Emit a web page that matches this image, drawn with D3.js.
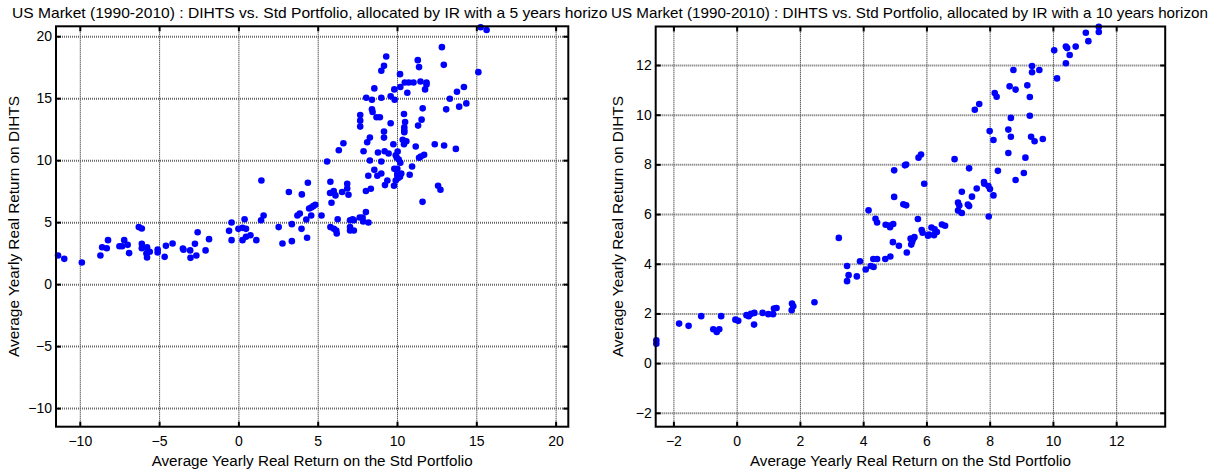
<!DOCTYPE html>
<html>
<head>
<meta charset="utf-8">
<script src="https://cdn.jsdelivr.net/npm/d3@7"></script>
<style>
  body { margin: 0; background: #fff; }
  svg { display: block; }
  text { font-family: "Liberation Sans", Arial, Helvetica, sans-serif; fill: #000; }
</style>
</head>
<body>
<svg id="chart" width="1212" height="471"></svg>
<script>
// 5-year horizon: average yearly real return on the Std portfolio (x) and on DIHTS (y)
const std5 = [
  -11.37,-10.98,-9.87,-8.70,-8.59,-8.30,-8.22,-7.50,-7.33,-7.20,-6.98,-6.89,-6.28,-6.09,-6.09,-6.09,
  -5.76,-5.72,-5.59,-5.76,-5.80,-5.09,-5.09,-4.65,-4.57,-4.15,-3.50,-3.46,-3.04,-3.02,-2.74,-2.65,
  -2.57,-2.07,-1.85,-0.59,-0.43,-0.43,0.00,0.26,0.48,0.39,0.26,0.48,0.76,1.13,1.43,1.59,2.54,2.78,
  3.37,3.37,3.72,3.87,3.98,4.28,4.33,4.46,4.59,4.72,4.85,4.59,5.24,5.87,5.80,6.02,6.17,6.20,6.26,
  7.04,7.20,7.28,7.04,7.04,7.28,7.65,7.83,8.04,7.87,8.20,11.61,
  1.45,3.18,4.00,4.38,
  15.27,15.65,12.83,9.32,12.95,9.18,9.01,11.31,11.39,15.13,10.19,10.49,10.74,11.04,11.48,11.86,11.86,
  11.77,10.21,9.83,8.57,10.65,14.22,13.78,13.33,14.37,13.92,13.10,8.06,8.42,9.01,9.60,9.85,8.42,8.46,
  8.71,8.92,7.68,7.68,7.68,9.60,11.62,10.44,11.55,10.51,11.33,10.46,10.46,10.46,9.18,9.18,8.29,8.12,
  6.62,6.33,10.36,10.59,10.44,11.18,12.38,12.97,13.71,9.77,7.89,8.80,9.22,9.47,10.04,9.92,9.98,10.11,
  10.21,11.39,11.50,11.71,5.59,8.29,9.01,8.57,8.76,9.01,8.19,9.83,10.02,10.95,10.02,10.27,10.02,10.19,
  10.06,10.80,9.39,9.24,9.81,9.92,12.59,12.74,5.80,6.86,6.86,6.54,6.94,5.78,6.01,6.12,8.35,8.04
];
const dihts5 = [
  2.31,2.04,1.75,2.31,2.98,2.90,3.55,3.06,3.06,3.55,3.17,2.50,4.60,4.49,3.25,2.90,
  2.98,2.61,2.61,2.15,2.47,2.80,2.55,2.20,3.09,3.28,2.88,2.77,2.72,2.12,3.25,2.31,
  4.19,2.72,3.63,4.30,4.97,3.55,4.46,4.54,4.46,5.24,3.55,3.82,3.95,3.55,5.16,5.54,4.60,3.28,
  4.84,3.47,5.54,5.70,4.46,5.22,3.74,6.10,6.18,6.29,6.40,5.54,5.54,6.56,4.60,4.46,4.33,4.09,5.24,
  5.16,5.24,5.16,4.60,4.33,4.33,5.38,5.38,5.81,5.05,4.97,6.64,
  8.36,7.43,7.24,8.18,
  20.72,20.50,19.12,18.36,17.69,17.61,17.21,18.07,17.51,17.10,16.94,16.27,16.27,16.27,16.35,16.27,16.11,
  15.71,15.90,15.71,15.79,15.44,15.90,15.52,14.96,14.58,14.32,14.10,15.04,14.88,15.04,15.15,14.88,14.10,13.89,
  13.46,13.46,13.65,13.19,12.71,12.98,14.18,13.73,13.27,13.08,12.79,12.65,12.41,12.25,12.31,11.82,11.82,11.45,
  11.37,10.80,11.64,11.53,11.29,11.10,11.29,11.18,10.91,11.29,10.72,10.62,10.72,10.54,10.70,10.40,10.21,10.05,
  9.79,10.19,10.29,10.43,9.89,9.97,9.89,9.22,8.74,8.93,8.74,9.30,9.30,9.49,8.93,8.93,8.74,8.66,
  8.55,8.82,8.36,7.99,7.94,8.36,7.94,7.61,8.26,8.10,7.72,7.43,7.21,7.35,7.51,7.16,7.69,7.51
];

// 10-year horizon
const std10 = [
  -2.54,-2.54,-1.82,-1.52,-1.12,-0.74,-0.63,-0.55,-0.49,-0.04,0.05,0.31,0.38,0.45,0.56,0.55,0.82,1.00,
  1.15,1.18,1.26,1.75,1.79,1.74,2.46,3.23,3.49,3.49,3.54,3.80,3.90,4.08,4.24,4.33,4.32,4.44,4.70,4.86,
  4.94,5.13,5.38,5.52,5.55,5.58,5.50,5.62,6.05,
  4.39,4.44,4.71,4.85,4.95,4.83,
  4.17,4.98,5.32,5.36,4.98,5.27,5.36,5.75,5.83,5.73,
  11.45,11.45,11.04,11.12,10.04,10.41,10.45,10.72,10.53,10.41,10.13,9.34,9.34,9.57,8.75,8.63,8.82,9.19,
  9.27,8.16,8.22,7.53,7.67,8.67,9.27,8.00,8.59,8.12,8.67,9.31,9.42,9.68,8.59,9.13,6.89,7.35,8.26,9.08,
  8.82,5.93,7.82,7.83,7.96,8.01,8.12,7.59,7.12,7.44,7.00,7.04,7.00,7.12,7.31,7.35,7.97,6.16,6.26,6.33,
  6.08,6.24,5.85,5.88,6.49,6.59
];
const dihts10 = [
  0.92,0.78,1.59,1.50,1.89,1.36,1.25,1.36,1.89,1.75,1.70,1.93,1.89,1.98,2.02,1.55,2.02,1.97,
  1.97,2.20,2.22,2.40,2.29,2.13,2.45,5.04,3.91,3.30,3.54,3.49,4.10,3.77,3.91,3.87,4.19,4.19,4.19,4.29,
  4.87,4.72,4.45,4.77,4.89,5.00,5.01,5.07,5.13,
  5.81,5.66,5.57,5.47,5.60,5.54,
  6.15,7.76,7.96,7.99,6.69,6.39,6.35,8.27,8.40,5.80,
  13.54,13.33,13.30,12.96,12.59,12.74,12.68,12.74,12.40,12.07,11.46,11.96,11.71,11.80,11.80,11.14,11.01,11.18,
  10.71,10.87,10.72,10.20,10.43,9.87,9.96,9.34,9.40,8.98,9.11,9.11,8.93,9.02,8.46,8.27,8.21,7.84,7.74,7.65,
  7.37,7.22,7.29,7.22,7.13,7.01,6.75,7.03,6.90,6.70,6.46,6.34,6.14,6.04,6.38,6.32,5.90,5.46,5.39,5.28,
  5.18,5.15,5.36,5.25,5.58,5.53
];

const ticks5 = [-10, -5, 0, 5, 10, 15, 20];
const ticks10 = [-2, 0, 2, 4, 6, 8, 10, 12];
const limits5 = [-11.5, 20.8];
const limits10 = [-2.56, 13.55];

const titles = [
  "US Market (1990-2010) : DIHTS vs. Std Portfolio, allocated by IR with a 5 years horizon",
  "US Market (1990-2010) : DIHTS vs. Std Portfolio, allocated by IR with a 10 years horizon"
];
const xLabel = "Average Yearly Real Return on the Std Portfolio";
const yLabel = "Average Yearly Real Return on DIHTS";

const svg = d3.select("#chart");
const TICK_FONT = 14;
const LABEL_FONT = 14;
const TITLE_FONT = 14.5;

svg.append("defs").append("clipPath").attr("id", "leftClip")
  .append("rect").attr("x", 0).attr("y", 0).attr("width", 608).attr("height", 471);

function panel(root, box, xs, ys, ticks, limits, title, opts) {
  const x = d3.scaleLinear().domain(limits).range([box.x0, box.x1]);
  const y = d3.scaleLinear().domain(limits).range([box.y1, box.y0]);
  const w = box.x1 - box.x0, h = box.y1 - box.y0;

  // dotted grid: vertical lines thin and dark, horizontal lines a little heavier
  const gridStyle = (s, color, width) => s.call(g => g.select(".domain").remove())
    .call(g => g.selectAll(".tick line").attr("stroke", color).attr("stroke-width", width)
      .attr("stroke-dasharray", "1,1"))
    .call(g => g.selectAll(".tick text").remove());
  root.append("g").attr("transform", `translate(0,${box.y1})`)
    .call(d3.axisBottom(x).tickValues(ticks).tickSize(-h).tickSizeOuter(0))
    .call(s => gridStyle(s, "#111", 1));
  root.append("g").attr("transform", `translate(${box.x0},0)`)
    .call(d3.axisLeft(y).tickValues(ticks).tickSize(-w).tickSizeOuter(0))
    .call(s => gridStyle(s, "#666", 2));

  // points
  root.append("g").selectAll("circle").data(xs.map((v, i) => [v, ys[i]])).join("circle")
    .attr("cx", d => x(d[0])).attr("cy", d => y(d[1])).attr("r", 3.3).attr("fill", "#0000ff");

  // inward ticks on all four sides
  const tickStyle = (s, labels) => s.call(g => g.select(".domain").remove())
    .call(g => g.selectAll(".tick line").attr("stroke", "#000").attr("stroke-width", 2))
    .call(g => g.selectAll(".tick text").attr("font-size", TICK_FONT)
      .attr("font-family", "Liberation Sans, Arial, sans-serif").style("display", labels ? null : "none"));
  root.append("g").attr("transform", `translate(0,${box.y1})`)
    .call(d3.axisBottom(x).tickValues(ticks).tickSize(-5).tickSizeOuter(0).tickPadding(9.5))
    .call(s => tickStyle(s, true));
  root.append("g").attr("transform", `translate(${box.x0},0)`)
    .call(d3.axisLeft(y).tickValues(ticks).tickSize(-5).tickSizeOuter(0).tickPadding(4))
    .call(s => tickStyle(s, true));
  root.append("g").attr("transform", `translate(0,${box.y0})`)
    .call(d3.axisTop(x).tickValues(ticks).tickSize(-5).tickSizeOuter(0))
    .call(s => tickStyle(s, false));
  root.append("g").attr("transform", `translate(${box.x1},0)`)
    .call(d3.axisRight(y).tickValues(ticks).tickSize(-5).tickSizeOuter(0))
    .call(s => tickStyle(s, false));

  // frame
  root.append("rect").attr("x", box.x0).attr("y", box.y0).attr("width", w).attr("height", h)
    .attr("fill", "none").attr("stroke", "#000").attr("stroke-width", 2);

  const cx = (box.x0 + box.x1) / 2, cy = (box.y0 + box.y1) / 2;
  root.append("text").attr("x", opts.titleX).attr("y", 18).attr("font-size", TITLE_FONT)
    .attr("textLength", opts.titleLen).attr("lengthAdjust", "spacingAndGlyphs").text(title);
  root.append("text").attr("x", cx).attr("y", 466).attr("text-anchor", "middle")
    .attr("font-size", LABEL_FONT).attr("textLength", 321).attr("lengthAdjust", "spacingAndGlyphs")
    .text(xLabel);
  root.append("text").attr("transform", `translate(${opts.yLabelX},${cy}) rotate(-90)`)
    .attr("text-anchor", "middle").attr("font-size", LABEL_FONT)
    .attr("textLength", 261).attr("lengthAdjust", "spacingAndGlyphs").text(yLabel);
}

const leftG = svg.append("g").attr("clip-path", "url(#leftClip)");
panel(leftG, { x0: 56, x1: 568.3, y0: 26.3, y1: 426.7 }, std5, dihts5, ticks5, limits5, titles[0],
  { titleX: 12, titleLen: 604, yLabelX: 19 });
const rightG = svg.append("g");
panel(rightG, { x0: 655.7, x1: 1165.2, y0: 26.5, y1: 426.7 }, std10, dihts10, ticks10, limits10, titles[1],
  { titleX: 611, titleLen: 597, yLabelX: 623 });
</script>
</body>
</html>
